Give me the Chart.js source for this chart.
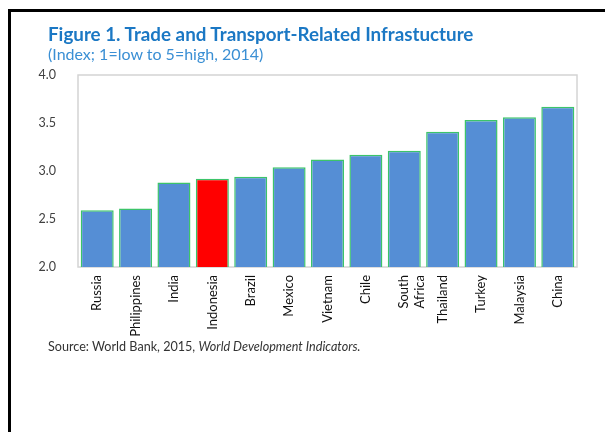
<!DOCTYPE html>
<html>
<head>
<meta charset="utf-8">
<script src="https://cdn.jsdelivr.net/npm/chart.js@4"></script>
<style>
    body { margin: 0; background: #fff; }
    #wrap { position: relative; width: 605px; height: 432px; overflow: hidden; }
    #frame { position: absolute; left: 8px; top: 9px; width: 620px; height: 440px; border-top: 3px solid #000; border-left: 3px solid #000; }
    #chart { position: absolute; left: 0; top: 0; }
    .txt { position: absolute; white-space: nowrap; font-family: Lato, "Noto Sans", sans-serif; }
    #title { left: 48px; top: 22px; font-size: 18.8px; font-weight: bold; color: #1b78c4; }
    #subtitle { left: 48px; top: 44px; font-size: 16px; color: #3a8fd4; }
    #source { left: 48px; top: 339px; font-size: 12.6px; color: #333; }
</style>
</head>
<body>
<div id="wrap">
    <div id="frame"></div>
    <canvas id="chart" width="605" height="432"></canvas>
    <div class="txt" id="title">Figure 1. Trade and Transport-Related Infrastucture</div>
    <div class="txt" id="subtitle">(Index; 1=low to 5=high, 2014)</div>
    <div class="txt" id="source">Source: World Bank, 2015, <i>World Development Indicators.</i></div>
</div>
<script>
    const countries = ['Russia', 'Philippines', 'India', 'Indonesia', 'Brazil', 'Mexico', 'Vietnam', 'Chile', ['South', 'Africa'], 'Thailand', 'Turkey', 'Malaysia', 'China'];
    const infraIndex = [2.59, 2.61, 2.88, 2.92, 2.94, 3.04, 3.12, 3.17, 3.21, 3.41, 3.53, 3.56, 3.67];
    const yTicks = [2.0, 2.5, 3.0, 3.5, 4.0];
    const highlight = 'Indonesia';

    const barColors = countries.map(c => c === highlight ? '#ff0000' : '#558ed5');

    // light grey box round the plot area
    const plotBox = {
        id: 'plotBox',
        beforeDatasetsDraw(chart) {
            const a = chart.chartArea;
            const ctx = chart.ctx;
            ctx.save();
            ctx.strokeStyle = '#d4d4d4';
            ctx.lineWidth = 1.5;
            ctx.strokeRect(a.left, a.top, a.right - a.left, a.bottom - a.top);
            ctx.restore();
        }
    };

    new Chart(document.getElementById('chart'), {
        type: 'bar',
        data: {
            labels: countries,
            datasets: [{
                data: infraIndex,
                backgroundColor: barColors,
                borderColor: '#3cc46a',
                borderWidth: 1.5,
                categoryPercentage: 0.86,
                barPercentage: 1
            }]
        },
        options: {
            responsive: false,
            animation: false,
            layout: { padding: { left: 30, top: 75, right: 28, bottom: 85 } },
            plugins: { legend: { display: false }, tooltip: { enabled: false } },
            scales: {
                x: {
                    grid: { display: false, drawTicks: false },
                    border: { display: false },
                    afterFit(scale) { scale.height = 80; },
                    ticks: {
                        minRotation: 90,
                        maxRotation: 90,
                        padding: 8,
                        color: '#111',
                        font: { family: 'Lato, "Noto Sans", sans-serif', size: 13 }
                    }
                },
                y: {
                    min: 2,
                    max: 4,
                    grid: { display: false, drawTicks: false },
                    border: { display: false },
                    afterFit(scale) { scale.width = 48; },
                    afterBuildTicks(scale) { scale.ticks = yTicks.map(v => ({ value: v })); },
                    ticks: {
                        padding: 22,
                        color: '#404040',
                        font: { family: 'Lato, "Noto Sans", sans-serif', size: 12.5 },
                        callback: v => Number(v).toFixed(1)
                    }
                }
            }
        },
        plugins: [plotBox]
    });
</script>
</body>
</html>
